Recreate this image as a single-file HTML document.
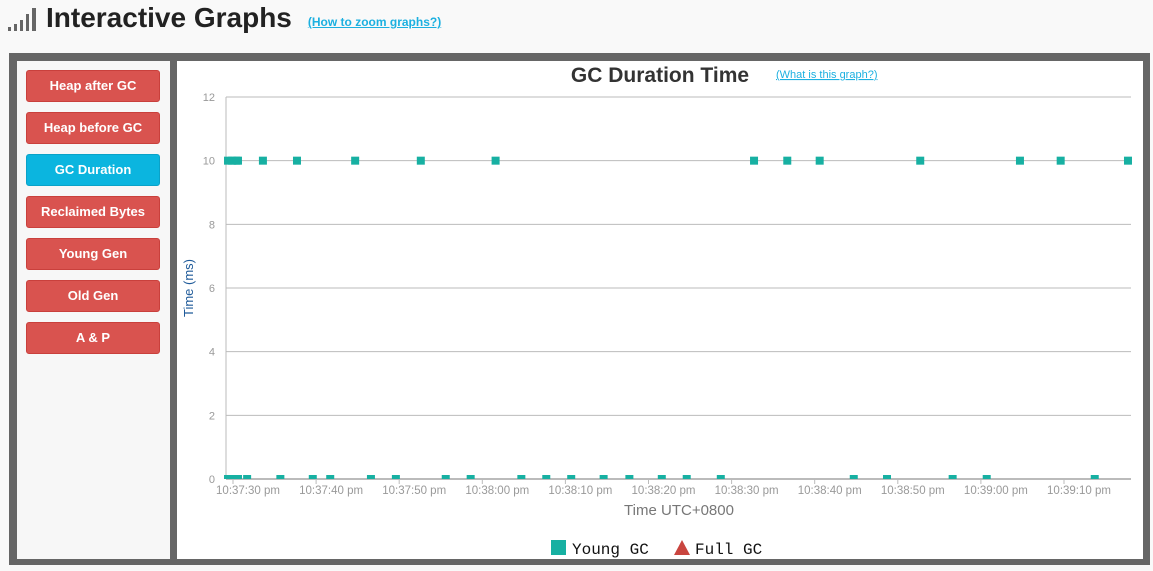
<!DOCTYPE html>
<html><head><meta charset="utf-8"><style>
body{margin:0;width:1153px;height:571px;background:#f9f9f9;font-family:"Liberation Sans",sans-serif;position:relative;overflow:hidden}
.hdr{position:absolute;left:8px;top:0;height:36px;display:flex;align-items:center}
h1{margin:0;font-size:28px;font-weight:bold;color:#222;margin-left:8px}
.hlink{font-size:12px;font-weight:bold;color:#1cb0e0;text-decoration:underline;margin-left:16px;margin-top:8px}
.frame{position:absolute;left:9px;top:53px;width:1141px;height:512px;background:#666}
.side{position:absolute;left:17px;top:61px;width:153px;height:498px;background:#f7f7f7}
.btn{position:absolute;left:26px;width:132px;height:30px;border:1px solid #c9403c;border-radius:3px;background:#d9534f;color:#fff;font-weight:bold;font-size:13px;text-align:center;line-height:30px}
.btn.act{background:#0bb5df;border-color:#0aa2c8}
.chart{position:absolute;left:177px;top:61px;width:966px;height:498px;background:#fff}
</style></head><body>
<div class="hdr">
<svg width="30" height="26"><rect x="0" y="22" width="3" height="4" fill="#666"/><rect x="6" y="19" width="3" height="7" fill="#666"/><rect x="12" y="15" width="3" height="11" fill="#666"/><rect x="18" y="9" width="3" height="17" fill="#666"/><rect x="24" y="3" width="4" height="23" fill="#666"/></svg>
<h1>Interactive Graphs</h1>
<a class="hlink">(How to zoom graphs?)</a>
</div>
<div class="frame"></div>
<div class="side"></div>
<div class="btn" style="top:70px">Heap after GC</div>
<div class="btn" style="top:112px">Heap before GC</div>
<div class="btn act" style="top:154px">GC Duration</div>
<div class="btn" style="top:196px">Reclaimed Bytes</div>
<div class="btn" style="top:238px">Young Gen</div>
<div class="btn" style="top:280px">Old Gen</div>
<div class="btn" style="top:322px">A &amp; P</div>
<div class="chart"></div>
<svg id="c" width="1153" height="571" style="position:absolute;left:0;top:0"></svg>
<script>
const yTicks=[0,2,4,6,8,10,12];
const xTickLabels=["10:37:30 pm","10:37:40 pm","10:37:50 pm","10:38:00 pm","10:38:10 pm","10:38:20 pm","10:38:30 pm","10:38:40 pm","10:38:50 pm","10:39:00 pm","10:39:10 pm"];
// seconds after 10:37:30
const youngSecs10=[-0.6,-0.1,0.4,0.6,3.6,7.7,14.7,22.6,31.6,62.7,66.7,70.6,82.7,94.7,99.6,107.7];
const youngSecs0=[-0.6,-0.4,0.2,0.6,1.7,5.7,9.6,11.7,16.6,19.6,25.6,28.6,34.7,37.7,40.7,44.6,47.7,51.6,54.6,58.7,74.7,78.7,86.6,90.7,103.7];
const youngValsHigh=youngSecs10.map(()=>10);
const youngValsLow=youngSecs0.map(()=>0);
const NS="http://www.w3.org/2000/svg";
const svg=document.getElementById('c');
const L=226,R=1131,Y0=479,Y12=97;
const xs=s=>233+s*8.31;
const ys=v=>Y0-(v/12)*(Y0-Y12);
const SANS='Liberation Sans, sans-serif';
function el(t,a,p){const e=document.createElementNS(NS,t);for(const k in a)e.setAttribute(k,a[k]);(p||svg).appendChild(e);return e;}
yTicks.forEach(v=>{
 const g=el('line',{x1:L,x2:R,y1:ys(v),y2:ys(v),stroke:'#bbb','stroke-width':v===0?2:1});
 
 
 const t=el('text',{x:215,y:ys(v)+4,'text-anchor':'end','font-size':11,fill:'#999','font-family':SANS});
 t.textContent=v;
 
 
});
el('line',{x1:L,x2:L,y1:Y12,y2:Y0,stroke:'#bbb','stroke-width':1});
xTickLabels.forEach((lab,i)=>{
 const x=xs(i*10);
 el('line',{x1:x,x2:x,y1:Y0,y2:Y0+5,stroke:'#bbb'});
 const t=el('text',{x:x+15,y:Y0+15,'text-anchor':'middle','font-size':11.5,fill:'#999','font-family':SANS});
 t.textContent=lab;
 
 
});
function pts(secs,vals){secs.forEach((s,i)=>{
 const r=el('rect',{x:xs(s)-4,y:ys(vals[i])-4,width:8,height:vals[i]===0?4:8,fill:'#17b0a2'});
 
 
});}
pts(youngSecs10,youngValsHigh);
pts(youngSecs0,youngValsLow);
let t=el('text',{x:660,y:82,'text-anchor':'middle','font-size':21,'font-weight':'bold',fill:'#333','font-family':SANS});
t.textContent='GC Duration Time';


t=el('text',{x:776,y:78,'font-size':11,fill:'#1cb0e0','text-decoration':'underline','font-family':SANS});
t.textContent='(What is this graph?)';


t=el('text',{x:0,y:0,transform:'translate(193,288) rotate(-90)','text-anchor':'middle','font-size':13,fill:'#1e5a99','font-family':SANS});
t.textContent='Time (ms)';


t=el('text',{x:679,y:515,'text-anchor':'middle','font-size':15,fill:'#777','font-family':SANS});
t.textContent='Time UTC+0800';


const lg=el('rect',{x:551,y:540,width:15,height:15,fill:'#17b0a2'});


t=el('text',{x:572,y:554,'font-size':16,fill:'#111','font-family':'Liberation Mono, monospace'});
t.textContent='Young GC';


const tri=el('polygon',{points:'674,555 690,555 682,540',fill:'#c9453f'});


t=el('text',{x:695,y:554,'font-size':16,fill:'#111','font-family':'Liberation Mono, monospace'});
t.textContent='Full GC';


</script>
</body></html>
